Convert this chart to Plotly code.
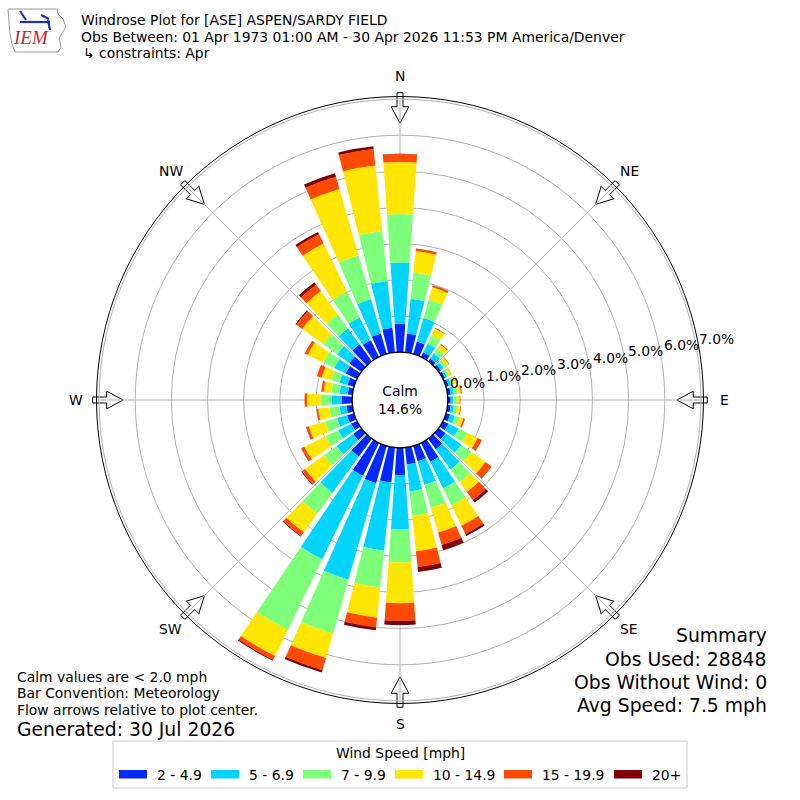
import math
import plotly.graph_objects as go

# wind rose for ASE, April, values in percent of all obs
directions = list(range(0, 360, 10))
speed_bins = ["2 - 4.9", "5 - 6.9", "7 - 9.9", "10 - 14.9", "15 - 19.9", "20+"]
bin_colors = ["#0028ff", "#00d4ff", "#7dff7a", "#ffe600", "#ff4a00", "#800000"]

pct_2_5 = [0.79, 0.53, 0.36, 0.15, 0.10, 0.08, 0.07, 0.08, 0.09, 0.08, 0.09, 0.12,
           0.17, 0.24, 0.36, 0.58, 0.44, 0.47, 0.75, 0.97, 1.07, 1.01, 0.61, 0.28,
           0.18, 0.20, 0.17, 0.29, 0.13, 0.19, 0.35, 0.41, 0.58, 0.52, 0.59, 0.69]
pct_5_7 = [1.69, 0.96, 0.68, 0.27, 0.17, 0.10, 0.06, 0.07, 0.09, 0.08, 0.09, 0.14,
           0.31, 0.54, 0.69, 0.82, 0.68, 0.75, 1.51, 1.90, 2.78, 2.57, 1.24, 0.57,
           0.40, 0.29, 0.19, 0.27, 0.23, 0.23, 0.35, 0.42, 0.55, 0.70, 0.99, 1.30]
pct_7_10 = [1.34, 0.73, 0.52, 0.24, 0.16, 0.09, 0.06, 0.08, 0.10, 0.09, 0.09, 0.12,
            0.27, 0.34, 0.43, 0.52, 0.66, 0.68, 0.91, 1.02, 1.55, 2.17, 0.71, 0.43,
            0.39, 0.34, 0.28, 0.31, 0.23, 0.23, 0.34, 0.47, 0.47, 0.79, 1.26, 1.39]
pct_10_15 = [1.44, 0.60, 0.36, 0.22, 0.14, 0.08, 0.07, 0.08, 0.09, 0.08, 0.09, 0.12,
             0.32, 0.48, 0.34, 0.63, 0.71, 0.98, 1.13, 0.84, 0.70, 0.80, 0.64, 0.64,
             0.65, 0.47, 0.31, 0.38, 0.21, 0.28, 0.48, 0.72, 0.80, 1.48, 1.91, 1.82]
pct_15_20 = [0.22, 0.06, 0.05, 0.02, 0.03, 0.02, 0.01, 0.02, 0.03, 0.02, 0.02, 0.05,
             0.13, 0.20, 0.28, 0.25, 0.36, 0.44, 0.48, 0.27, 0.35, 0.12, 0.13, 0.11,
             0.09, 0.07, 0.05, 0.07, 0.07, 0.14, 0.09, 0.20, 0.22, 0.29, 0.35, 0.46]
pct_20_up = [0.01, 0.01, 0.01, 0.00, 0.00, 0.00, 0.00, 0.00, 0.00, 0.00, 0.00, 0.00,
             0.00, 0.01, 0.09, 0.06, 0.15, 0.14, 0.12, 0.08, 0.07, 0.03, 0.02, 0.02,
             0.01, 0.01, 0.00, 0.00, 0.00, 0.00, 0.00, 0.03, 0.08, 0.07, 0.10, 0.07]
series = [pct_2_5, pct_5_7, pct_7_10, pct_10_15, pct_15_20, pct_20_up]

calm_pct = 14.6
radial_ticks = [0, 1, 2, 3, 4, 5, 6, 7]
compass = ["N", "NE", "E", "SE", "S", "SW", "W", "NW"]

W = H = 800
CX, CY = 400, 400
R_OUT = 303.5
R_CALM = 47.8
R_MAX = 7.07          # radial range maximum (percent)
LABEL_ANGLE = 10      # radial labels sit along this line (deg, ccw from east)
FONT = "DejaVu Sans"


def paper(x, y):
    return x / W, 1 - y / H


def polar_px(deg, r, off=0.0):
    a = math.radians(deg)
    return (CX + r * math.sin(a) + off * math.cos(a),
            CY - r * math.cos(a) + off * math.sin(a))


def path_from(points, close=True):
    pts = [paper(x, y) for x, y in points]
    p = "M" + " L".join(f"{x:.5f},{y:.5f}" for x, y in pts)
    return p + " Z" if close else p


def text(x, y, s, size=13.9, xa="center", ya="middle", **font):
    px_, py_ = paper(x, y)
    return dict(x=px_, y=py_, xref="paper", yref="paper", text=s, showarrow=False,
                xanchor=xa, yanchor=ya, font=dict(size=size, **font))


fig = go.Figure()
for name, vals, col in zip(speed_bins, series, bin_colors):
    fig.add_trace(go.Barpolar(
        r=vals, theta=directions, width=8, name=name,
        marker=dict(color=col, line=dict(width=0)),
    ))

shapes = []
annotations = []

# flow arrows + compass labels
for i, lab in enumerate(compass):
    d = i * 45
    pts = [polar_px(d, 307.3, -3), polar_px(d, 293.3, -3), polar_px(d, 293.3, -8.8),
           polar_px(d, 276.7, 0), polar_px(d, 293.3, 8.8), polar_px(d, 293.3, 3),
           polar_px(d, 307.3, 3)]
    shapes.append(dict(type="path", path=path_from(pts), xref="paper", yref="paper",
                       line=dict(color="black", width=1), fillcolor="white", layer="below"))
    annotations.append(text(*polar_px(d, 324), lab))

# radial tick labels, left/bottom anchored on the label line like matplotlib
for v in radial_ticks:
    rp = R_CALM + v / R_MAX * (R_OUT - R_CALM)
    a = math.radians(LABEL_ANGLE)
    annotations.append(text(CX + rp * math.cos(a) + 1, CY - rp * math.sin(a) + 1,
                            f"{v:.1f}%", xa="left", ya="bottom"))

# calm circle
x0, y1 = paper(CX - R_CALM, CY - R_CALM)
x1, y0 = paper(CX + R_CALM, CY + R_CALM)
shapes.append(dict(type="circle", xref="paper", yref="paper", x0=x0, x1=x1, y0=y0, y1=y1,
                   line=dict(color="black", width=1.3), fillcolor="white"))
annotations.append(text(CX, CY, f"Calm<br>{calm_pct:.1f}%"))

# header
annotations.append(text(79, 20, "Windrose Plot for [ASE] ASPEN/SARDY FIELD", xa="left"))
annotations.append(text(79, 37, "Obs Between: 01 Apr 1973 01:00 AM - 30 Apr 2026 "
                        "11:53 PM America/Denver", xa="left"))
annotations.append(text(81, 53, "↳ constraints: Apr", xa="left"))

# IEM logo
logo = [(8, 9), (57, 9), (58, 14), (63, 19), (66, 27), (62, 33), (59, 39), (61, 47),
        (58, 52), (15, 52), (12, 44), (10, 34), (9, 22)]
shapes.append(dict(type="path", path=path_from(logo), xref="paper", yref="paper",
                   line=dict(color="#999999", width=1), fillcolor="white"))
for seg in [[(20, 22), (50, 22)], [(20, 11), (26, 20)], [(41, 15), (49, 19)],
            [(48, 20), (50, 30)]]:
    shapes.append(dict(type="path", path=path_from(seg, close=False),
                       xref="paper", yref="paper", line=dict(color="#1c2fbf", width=2.2)))
annotations.append(text(31, 38, "<i>IEM</i>", size=19, family="Liberation Serif",
                        color="#cc2a2a"))

# footer notes
annotations.append(text(15, 677, "Calm values are &lt; 2.0 mph", xa="left"))
annotations.append(text(15, 693, "Bar Convention: Meteorology", xa="left"))
annotations.append(text(15, 710, "Flow arrows relative to plot center.", xa="left"))
annotations.append(text(15, 729, "Generated: 30 Jul 2026", size=18.8, xa="left"))

summary = [("Summary", 635), ("Obs Used: 28848", 659), ("Obs Without Wind: 0", 682),
           ("Avg Speed: 7.5 mph", 705)]
for s, y in summary:
    annotations.append(text(769, y, s, size=18.8, xa="right"))

# legend box drawn by hand to match the matplotlib layout
lb0, lb1 = paper(113, 788)
lt0, lt1 = paper(687, 741)
shapes.append(dict(type="rect", xref="paper", yref="paper", x0=lb0, y0=lb1, x1=lt0, y1=lt1,
                   line=dict(color="#cccccc", width=1), fillcolor="white"))
annotations.append(text(400, 753, "Wind Speed [mph]"))
box_x = [119, 211, 303, 395, 504, 614]
for name, col, x in zip(speed_bins, bin_colors, box_x):
    a0, b1 = paper(x, 770)
    a1, b0 = paper(x + 28, 778.5)
    shapes.append(dict(type="rect", xref="paper", yref="paper", x0=a0, x1=a1, y0=b0, y1=b1,
                       line=dict(width=0), fillcolor=col))
    annotations.append(text(x + 36, 774.5, name, xa="left"))

fig.update_layout(
    width=W, height=H, margin=dict(l=0, r=0, t=0, b=0),
    paper_bgcolor="white",
    font=dict(family=FONT, size=13.9, color="black"),
    showlegend=False,
    shapes=shapes,
    annotations=annotations,
    polar=dict(
        domain=dict(x=[(CX - R_OUT) / W, (CX + R_OUT) / W],
                    y=[(CY - R_OUT) / H, (CY + R_OUT) / H]),
        hole=R_CALM / R_OUT,
        bgcolor="rgba(0,0,0,0)",
        barmode="stack",
        angularaxis=dict(rotation=90, direction="clockwise", tickmode="array",
                         tickvals=list(range(0, 360, 45)), showticklabels=False, ticks="",
                         gridcolor="#b0b0b0", gridwidth=1, showline=True,
                         linecolor="black", linewidth=1),
        radialaxis=dict(range=[0, R_MAX], tickmode="array", tickvals=radial_ticks,
                        angle=LABEL_ANGLE, showticklabels=False, showline=False,
                        ticks="", gridcolor="#b0b0b0", gridwidth=1),
    ),
)

fig.write_html("out.html", config={"displayModeBar": False},
               post_script="document.body.style.margin='0px';")
